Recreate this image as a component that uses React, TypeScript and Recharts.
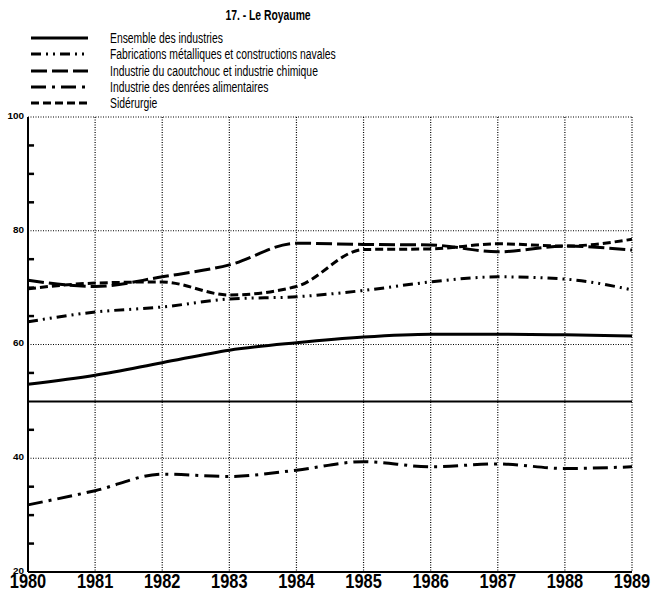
import { LineChart, Line, XAxis, YAxis, CartesianGrid, ReferenceLine } from 'recharts'

const years = [1980, 1981, 1982, 1983, 1984, 1985, 1986, 1987, 1988, 1989]
const ensemble = [53.0, 54.6, 56.8, 59.0, 60.3, 61.3, 61.8, 61.8, 61.7, 61.5]
const fabrications = [64.0, 65.7, 66.6, 68.0, 68.4, 69.5, 71.0, 71.9, 71.5, 69.6]
const caoutchouc = [71.3, 70.2, 71.9, 74.0, 77.8, 77.6, 77.5, 76.3, 77.3, 76.6]
const denrees = [31.8, 34.3, 37.2, 36.8, 37.9, 39.4, 38.5, 39.0, 38.2, 38.5]
const siderurgie = [69.8, 70.8, 71.0, 68.7, 70.2, 76.7, 76.8, 77.7, 77.3, 78.5]
const yLabels = [20, 40, 60, 80, 100]
const minorTicks = [25, 30, 35, 45, 55, 65, 70, 75, 85, 90, 95]
const gridValues = [40, 60, 80, 100]

const seriesNames = [
  'Ensemble des industries',
  'Fabrications métalliques et constructions navales',
  'Industrie du caoutchouc et industrie chimique',
  'Industrie des denrées alimentaires',
  'Sidérurgie',
]
const seriesKeys = ['ensemble', 'fabrications', 'caoutchouc', 'denrees', 'siderurgie']
const dashes: Record<string, string | undefined> = {
  ensemble: undefined,
  fabrications: '10 5 2 5 2 5',
  caoutchouc: '16 5',
  denrees: '15 6 3 6',
  siderurgie: '8 4',
}

const data = years.map((y, i) => ({
  year: y,
  ensemble: ensemble[i],
  fabrications: fabrications[i],
  caoutchouc: caoutchouc[i],
  denrees: denrees[i],
  siderurgie: siderurgie[i],
}))

const FONT = "'Liberation Sans', Arial, sans-serif"

function YTick(props: any) {
  const { x, y, payload } = props
  return (
    <text
      transform={`translate(${x},${Number(y) - 1}) scale(0.9,0.8)`}
      textAnchor="end"
      dominantBaseline="central"
      fontSize={11}
      fontWeight={700}
      fontFamily={FONT}
      fill="#000"
    >
      {payload.value}
    </text>
  )
}

function XTick(props: any) {
  const { x, y, payload } = props
  return (
    <text
      transform={`translate(${x},${y}) scale(0.78,1)`}
      textAnchor="middle"
      dy="0.71em"
      fontSize={21}
      fontWeight={700}
      fontFamily={FONT}
      fill="#000"
    >
      {payload.value}
    </text>
  )
}

export default function App() {
  return (
    <div style={{ position: 'fixed', left: 0, top: 0, width: 653, height: 592, background: '#fff' }}>
      <LineChart width={653} height={592} data={data} margin={{ top: 117, left: 0, right: 21, bottom: 0 }}>
        <CartesianGrid stroke="#000" strokeWidth={1.2} strokeDasharray="1 1.5" horizontalValues={gridValues} />
        <ReferenceLine y={50} stroke="#000" strokeWidth={2} />
        {minorTicks.map((v) => (
          <ReferenceLine
            key={v}
            segment={[{ x: 1980, y: v }, { x: 1980.09, y: v }]}
            stroke="#000"
            strokeWidth={2.5}
            ifOverflow="visible"
          />
        ))}
        <XAxis
          dataKey="year"
          type="number"
          domain={[1980, 1989]}
          ticks={years}
          height={20}
          tickSize={0}
          tickMargin={1}
          axisLine={{ stroke: '#000', strokeWidth: 2 }}
          tick={<XTick />}
          interval={0}
        />
        <YAxis
          width={28}
          domain={[20, 100]}
          ticks={yLabels}
          tickSize={0}
          tickMargin={4}
          interval={0}
          axisLine={{ stroke: '#000', strokeWidth: 2 }}
          tickLine={false}
          tick={<YTick />}
        />
        {seriesKeys.map((k) => (
          <Line
            key={k}
            dataKey={k}
            type="monotone"
            stroke="#000"
            strokeWidth={3}
            strokeDasharray={dashes[k]}
            dot={false}
            isAnimationActive={false}
          />
        ))}
      </LineChart>
      <div style={{ position: 'absolute', left: 0, top: 0, width: 653, height: 115, pointerEvents: 'none', fontFamily: FONT, color: '#000' }}>
        <div
          style={{
            position: 'absolute',
            left: 0,
            width: 536,
            top: 7,
            textAlign: 'center',
            fontSize: 14,
            lineHeight: '16px',
            fontWeight: 700,
            transform: 'scaleX(0.74)',
            transformOrigin: '268px 0',
          }}
        >
          17. - Le Royaume
        </div>
        {seriesKeys.map((k, i) => {
          const cy = 38 + i * 16.3
          return (
            <div key={k}>
              <svg style={{ position: 'absolute', left: 0, top: cy - 5 }} width={100} height={10}>
                <line x1={31} x2={88} y1={5} y2={5} stroke="#000" strokeWidth={3} strokeDasharray={dashes[k]} />
              </svg>
              <div
                style={{
                  position: 'absolute',
                  left: 110,
                  top: cy - 9,
                  fontSize: 14,
                  lineHeight: '18px',
                  whiteSpace: 'nowrap',
                  transform: 'scaleX(0.74)',
                  transformOrigin: '0 0',
                }}
              >
                {seriesNames[i]}
              </div>
            </div>
          )
        })}
      </div>
    </div>
  )
}
